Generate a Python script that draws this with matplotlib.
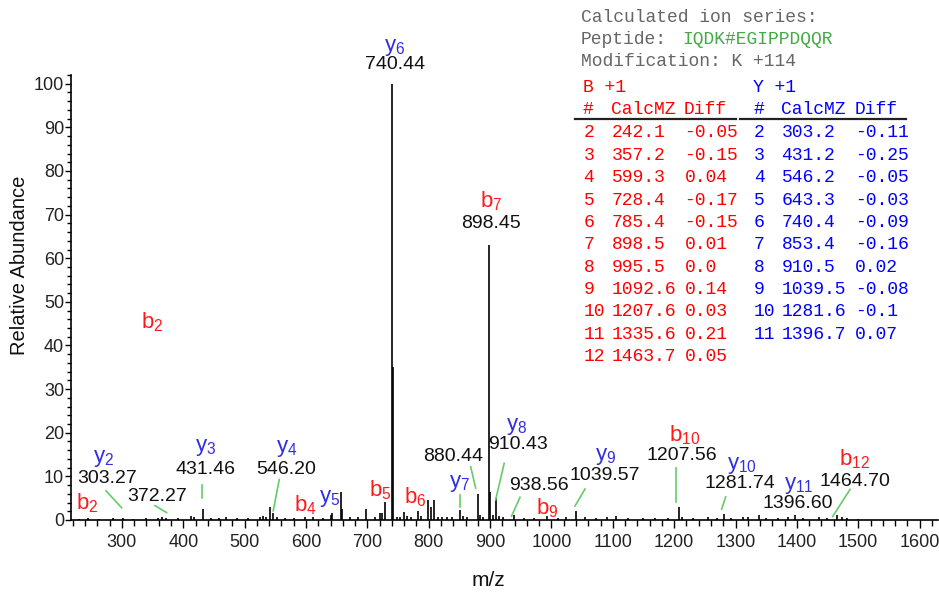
import matplotlib
matplotlib.use("Agg")
import matplotlib.pyplot as plt
from matplotlib.ticker import MultipleLocator
from matplotlib.patches import Rectangle
from matplotlib.lines import Line2D

plt.rcParams['font.family'] = ['Liberation Sans', 'DejaVu Sans']
plt.rcParams['mathtext.fontset'] = 'custom'
plt.rcParams['mathtext.rm'] = 'Liberation Sans'
plt.rcParams['mathtext.it'] = 'Liberation Sans'

# ---------------- data ----------------
mz = [230, 245, 262, 285, 301, 318, 340, 358, 365, 372, 392, 413, 418, 431.46, 445, 458, 470, 488,
      505, 525, 530, 535, 541, 546.2, 552, 565, 580, 598, 612, 628, 640, 643, 656.4, 659, 672, 684,
      698.5, 712, 720, 724, 728.4, 740.44, 741.4, 748, 753, 760, 765, 771, 782, 788, 799, 803.5, 808,
      815, 822, 830, 838, 851, 856, 862, 880.44, 884, 889, 898.45, 899.45, 904, 910.43, 915, 921,
      938.56, 955, 972, 993, 1010, 1023, 1039.57, 1055, 1072, 1090, 1105, 1124, 1150, 1168, 1190,
      1207.56, 1212, 1230, 1255, 1270, 1281.74, 1292, 1312, 1320, 1338, 1350, 1370, 1385, 1396.6,
      1410, 1436, 1449, 1464.7, 1473, 1481, 1500]
intensity = [0.3, 0.4, 0.3, 0.4, 0.5, 0.3, 0.4, 0.5, 0.6, 0.5, 0.4, 1.0, 0.6, 2.6, 0.5, 0.4, 0.6, 0.5,
             0.4, 0.8, 0.9, 0.7, 2.9, 1.7, 0.6, 0.5, 0.5, 0.8, 0.6, 0.5, 1.2, 1.5, 6.5, 2.5, 0.6, 0.8,
             2.6, 0.8, 1.7, 1.5, 4.2, 100, 35, 0.6, 0.8, 1.8, 1.0, 0.8, 2.0, 1.0, 4.5, 3.0, 4.5,
             0.8, 0.7, 0.6, 0.6, 2.2, 1.0, 0.8, 6.0, 1.2, 0.8, 63, 6.5, 1.2, 5.0, 1.0, 0.8,
             1.2, 0.5, 0.5, 1.0, 0.5, 0.6, 2.0, 0.6, 0.5, 0.6, 1.0, 0.4, 0.4, 0.5, 0.5,
             3.0, 0.8, 0.5, 0.6, 0.4, 1.4, 0.5, 0.8, 0.6, 1.2, 0.5, 0.4, 0.6, 1.2,
             0.4, 0.6, 0.4, 1.2, 0.6, 0.5, 0.3]

# ion labels: (letter, index, mz, y)
ion_labels = [
    ("y", "6", 744, 108.3), ("b", "7", 902, 73.0), ("b", "2", 349, 45.4),
    ("y", "2", 270, 14.2), ("b", "2", 243.5, 3.8), ("y", "3", 437, 16.6),
    ("y", "4", 568.4, 16.4), ("b", "4", 598.3, 3.4), ("y", "5", 639, 5.0),
    ("b", "5", 720.5, 6.9), ("b", "6", 777.6, 5.3), ("y", "7", 851, 8.3),
    ("y", "8", 943.3, 21.4), ("b", "9", 993, 2.7), ("y", "9", 1088, 14.5),
    ("b", "10", 1217.7, 19.5), ("y", "10", 1310, 12.4), ("y", "11", 1404, 7.8),
    ("b", "12", 1493.7, 13.9),
]
# mass labels: (text, mz, y)
mass_labels = [
    ("740.44", 745, 104.4), ("898.45", 901.5, 68.0), ("303.27", 276.3, 9.6),
    ("372.27", 356.5, 5.3), ("431.46", 436.4, 11.6), ("546.20", 568.4, 11.6),
    ("880.44", 840, 14.5), ("910.43", 946, 17.2), ("938.56", 979.7, 8.0),
    ("1039.57", 1087, 10.1), ("1207.56", 1212, 14.7), ("1281.74", 1307, 8.4),
    ("1396.60", 1400.7, 3.8), ("1464.70", 1494.8, 8.8),
]
# leader lines (x0, y0, x1, y1)
leaders = [
    (274, 6.7, 299.5, 2.8), (353.8, 3.3, 372.8, 1.7), (430, 8.0, 430, 5.1),
    (556.4, 9.3, 546.6, 2.1), (851, 5.7, 851, 3.0), (868.4, 12.2, 876.5, 7.3),
    (923, 13.0, 909, 4.6), (948.8, 5.2, 935, 0.9), (1054.7, 7.1, 1038.4, 3.2),
    (1203, 11.9, 1203, 4.2), (1284, 5.3, 1277.4, 2.5), (1486.6, 7.0, 1458.4, 0.8),
]

# table data
b_num = [2, 3, 4, 5, 6, 7, 8, 9, 10, 11, 12]
b_calc = ["242.1", "357.2", "599.3", "728.4", "785.4", "898.5", "995.5", "1092.6", "1207.6", "1335.6", "1463.7"]
b_diff = ["-0.05", "-0.15", "0.04", "-0.17", "-0.15", "0.01", "0.0", "0.14", "0.03", "0.21", "0.05"]
y_num = [2, 3, 4, 5, 6, 7, 8, 9, 10, 11]
y_calc = ["303.2", "431.2", "546.2", "643.3", "740.4", "853.4", "910.5", "1039.5", "1281.6", "1396.7"]
y_diff = ["-0.11", "-0.25", "-0.05", "-0.03", "-0.09", "-0.16", "0.02", "-0.08", "-0.1", "0.07"]

# ---------------- figure ----------------
W, H = 939, 602
fig = plt.figure(figsize=(W / 100, H / 100), dpi=100)
ax = fig.add_axes([71 / W, (H - 520) / H, (938 - 71) / W, (520 - 75) / H])

ax.vlines(mz, 0, intensity, color='black', lw=1.2)
ax.set_xlim(217, 1630)
ax.set_ylim(0, 102)

for s in ['top', 'right']:
    ax.spines[s].set_visible(False)
ax.spines['left'].set_linewidth(1.2)
ax.spines['bottom'].set_linewidth(1.2)

ax.xaxis.set_major_locator(MultipleLocator(100))
ax.xaxis.set_minor_locator(MultipleLocator(20))
ax.yaxis.set_major_locator(MultipleLocator(10))
ax.yaxis.set_minor_locator(MultipleLocator(2))
ax.tick_params(axis='x', which='major', direction='out', length=6, width=1.0, labelsize=13, pad=4,
               labelcolor='#222222')
ax.tick_params(axis='x', which='minor', direction='out', length=4.5, width=1.0)
ax.tick_params(axis='y', which='major', direction='out', length=4, width=1.0, labelsize=13, pad=1,
               labelcolor='#222222')
ax.tick_params(axis='y', which='minor', direction='out', length=3, width=1.0)
ax.set_xticks([t for t in range(300, 1700, 100)])

ax.set_ylabel("Relative Abundance", fontsize=14.5, color='#111111')
ax.yaxis.set_label_coords(-0.048, 0.572)
ax.set_xlabel("m/z", fontsize=15, color='#111111')
ax.xaxis.set_label_coords((488 - 71) / (938 - 71), -0.114)

red = '#ff1a1a'
blue = '#3030e0'
for letter, sub, x, y in ion_labels:
    col = red if letter == 'b' else blue
    ax.text(x, y, r'$\mathregular{%s_{%s}}$' % (letter, sub), color=col, fontsize=16,
            ha='center', va='center', clip_on=False)
for txt, x, y in mass_labels:
    ax.text(x, y, txt, color='#111111', fontsize=14, ha='center', va='center', clip_on=False)
for x0, y0, x1, y1 in leaders:
    ax.plot([x0, x1], [y0, y1], color='#66cc66', lw=1.2, clip_on=False)

# ---------------- table ----------------
mono = 'Liberation Mono'
fs = 13
def fx(px):
    return px / W
def fy(py):
    return 1 - py / H

gray = '#666666'
fig.text(fx(581), fy(17), "Calculated ion series:", family=mono, fontsize=fs, color=gray, va='center')
fig.text(fx(581), fy(40), "Peptide:", family=mono, fontsize=fs, color=gray, va='center')
fig.text(fx(682), fy(40), "IQDK#EGIPPDQQR", family=mono, fontsize=fs, color='#44aa44', va='center')
fig.text(fx(581), fy(62), "Modification: K +114", family=mono, fontsize=fs, color=gray, va='center')

tred = '#ff0000'
tblue = '#0000ff'
fig.text(fx(583), fy(88), "B +1", family=mono, fontsize=fs, color=tred, va='center')
fig.text(fx(753), fy(88), "Y +1", family=mono, fontsize=fs, color=tblue, va='center')
for xx, s in [(583, "#"), (611.5, "CalcMZ"), (684, "Diff")]:
    fig.text(fx(xx), fy(110), s, family=mono, fontsize=fs, color=tred, va='center')
for xx, s in [(754, "#"), (781.5, "CalcMZ"), (854.5, "Diff")]:
    fig.text(fx(xx), fy(110), s, family=mono, fontsize=fs, color=tblue, va='center')

fig.add_artist(Line2D([fx(575), fx(736)], [fy(119), fy(119)], color='#222222', lw=1.6))
fig.add_artist(Line2D([fx(740), fx(906)], [fy(119), fy(119)], color='#222222', lw=1.6))
fig.add_artist(Rectangle((fx(575), fy(141)), (736 - 575) / W, 19 / H, facecolor='#ffff00',
                         edgecolor='none', zorder=0))

row0, dy = 133, 22.35
for i, (n, c, d) in enumerate(zip(b_num, b_calc, b_diff)):
    yy = fy(row0 + i * dy)
    fig.text(fx(583.5), yy, str(n), family=mono, fontsize=fs, color=tred, va='center')
    fig.text(fx(611.5), yy, c, family=mono, fontsize=fs, color=tred, va='center')
    fig.text(fx(684.5), yy, d, family=mono, fontsize=fs, color=tred, va='center')
for i, (n, c, d) in enumerate(zip(y_num, y_calc, y_diff)):
    yy = fy(row0 + i * dy)
    fig.text(fx(754), yy, str(n), family=mono, fontsize=fs, color=tblue, va='center')
    fig.text(fx(781.5), yy, c, family=mono, fontsize=fs, color=tblue, va='center')
    fig.text(fx(855), yy, d, family=mono, fontsize=fs, color=tblue, va='center')

fig.savefig("out.png", dpi=100)
